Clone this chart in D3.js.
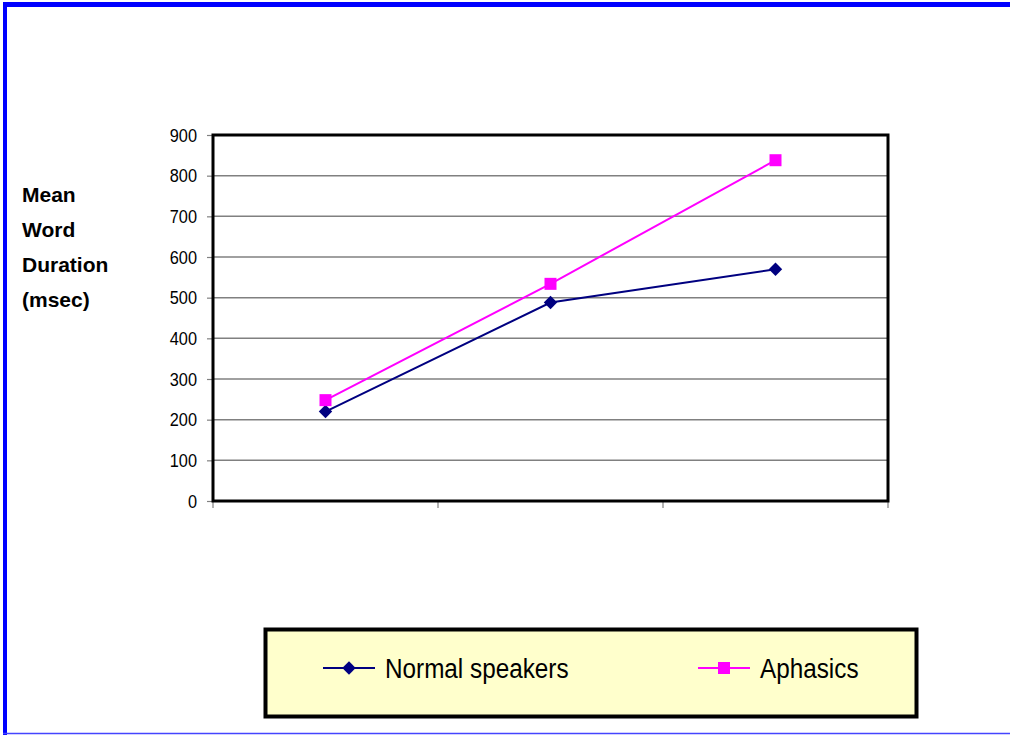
<!DOCTYPE html>
<html>
<head>
<meta charset="utf-8">
<script src="https://cdn.jsdelivr.net/npm/d3@7"></script>
<style>
html,body{margin:0;padding:0;background:#fff;}
svg{display:block;}
</style>
</head>
<body>
<svg id="chart" width="1010" height="735"></svg>
<script>
const categories = ["Condition 1", "Condition 2", "Condition 3"];
const normalSpeakers = [220, 488, 570];
const aphasics = [248, 534, 838];
const yTicks = [0, 100, 200, 300, 400, 500, 600, 700, 800, 900];
const seriesNames = ["Normal speakers", "Aphasics"];
const yLabelLines = ["Mean", "Word", "Duration", "(msec)"];

const svg = d3.select("#chart");
const narrow = "'Liberation Sans Narrow','Arial Narrow','Liberation Sans',Arial,sans-serif";

// outer blue frame
svg.append("line").attr("x1",3).attr("x2",1010).attr("y1",4.5).attr("y2",4.5).attr("stroke","#0000ff").attr("stroke-width",5);
svg.append("line").attr("x1",5).attr("x2",5).attr("y1",2).attr("y2",735).attr("stroke","#0000ff").attr("stroke-width",4);
svg.append("line").attr("x1",3).attr("x2",1010).attr("y1",733.5).attr("y2",733.5).attr("stroke","#4444ff").attr("stroke-width",1.5);

const L = 213, R = 888, T = 135, B = 501;
const x = d3.scaleBand().domain(categories).range([L, R]);
const y = d3.scaleLinear().domain([0, 900]).range([B, T]);

// gridlines
svg.append("g").selectAll("line").data(yTicks.filter(d => d > 0 && d < 900)).join("line")
  .attr("x1", L).attr("x2", R).attr("y1", d => y(d)).attr("y2", d => y(d))
  .attr("stroke", "#808080").attr("stroke-width", 1.5);

// y axis ticks & labels
const sx = 0.86;
const yAxis = d3.axisLeft(y).tickValues(yTicks).tickSize(6).tickPadding(10);
const gy = svg.append("g").attr("transform", `translate(${L},0)`).call(yAxis);
gy.select(".domain").remove();
gy.selectAll(".tick line").attr("stroke", "#808080").attr("stroke-width", 1.2);
gy.selectAll(".tick text").attr("font-family", narrow).attr("font-size", 19).attr("fill", "#000")
  .attr("x", -16 / sx).attr("transform", `scale(${sx},1)`);

// x axis ticks (category boundaries)
const xb = categories.map(c => x(c)).concat([R]);
svg.append("g").selectAll("line").data(xb).join("line")
  .attr("x1", d => d).attr("x2", d => d).attr("y1", B).attr("y2", B + 7)
  .attr("stroke", "#808080").attr("stroke-width", 1.2);

// plot frame
svg.append("rect").attr("x", L).attr("y", T).attr("width", R - L).attr("height", B - T)
  .attr("fill", "none").attr("stroke", "#000").attr("stroke-width", 3);

const cx = c => x(c) + x.bandwidth() / 2;
const line = d3.line().x((d, i) => cx(categories[i])).y(d => y(d));

svg.append("path").datum(normalSpeakers).attr("d", line).attr("fill", "none").attr("stroke", "#000080").attr("stroke-width", 2);
svg.append("path").datum(aphasics).attr("d", line).attr("fill", "none").attr("stroke", "#ff00ff").attr("stroke-width", 2);

svg.append("g").selectAll("path").data(normalSpeakers).join("path")
  .attr("d", d3.symbol().type(d3.symbolSquare).size(90))
  .attr("transform", (d, i) => `translate(${cx(categories[i])},${y(d)}) rotate(45)`)
  .attr("fill", "#000080");
svg.append("g").selectAll("rect").data(aphasics).join("rect")
  .attr("x", (d, i) => cx(categories[i]) - 6).attr("y", d => y(d) - 6)
  .attr("width", 12).attr("height", 12).attr("fill", "#ff00ff");

// y label
svg.append("g").selectAll("text").data(yLabelLines).join("text")
  .attr("x", 22).attr("y", (d, i) => 202 + i * 35)
  .attr("font-family", "'Liberation Sans',Arial,sans-serif").attr("font-weight", "bold")
  .attr("font-size", 21).attr("fill", "#000").text(d => d);

// legend
svg.append("rect").attr("x", 265.5).attr("y", 629.5).attr("width", 651).attr("height", 87)
  .attr("fill", "#ffffcc").attr("stroke", "#000").attr("stroke-width", 4);
const legendItems = [
  {name: seriesNames[0], color: "#000080", x0: 323, kind: "diamond"},
  {name: seriesNames[1], color: "#ff00ff", x0: 698, kind: "square"}
];
const ly = 668;
const lsx = 0.9;
legendItems.forEach(it => {
  svg.append("line").attr("x1", it.x0).attr("x2", it.x0 + 52).attr("y1", ly).attr("y2", ly)
    .attr("stroke", it.color).attr("stroke-width", 2);
  if (it.kind === "diamond") {
    svg.append("path").attr("d", d3.symbol().type(d3.symbolSquare).size(90))
      .attr("transform", `translate(${it.x0 + 26},${ly}) rotate(45)`).attr("fill", it.color);
  } else {
    svg.append("rect").attr("x", it.x0 + 20).attr("y", ly - 6).attr("width", 12).attr("height", 12).attr("fill", it.color);
  }
  svg.append("text").attr("transform", `translate(${it.x0 + 62},${ly + 10}) scale(${lsx},1)`)
    .attr("font-family", narrow).attr("font-size", 27).attr("fill", "#000").text(it.name);
});
</script>
</body>
</html>
